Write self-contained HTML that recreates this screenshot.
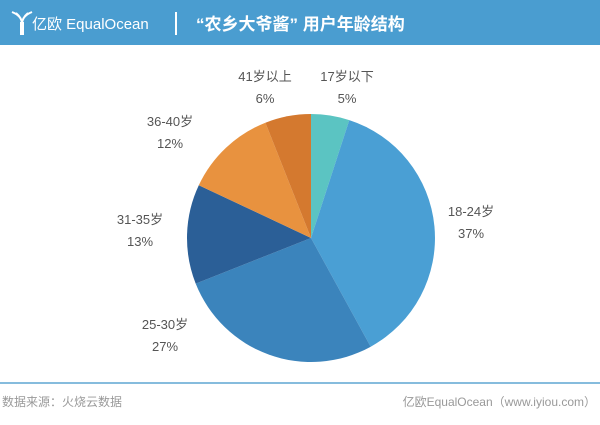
<!DOCTYPE html>
<html><head><meta charset="utf-8"><style>
body{margin:0;width:600px;height:425px;background:#fff;font-family:"Liberation Sans","Noto Sans CJK SC",sans-serif;position:relative;overflow:hidden}
.hd{position:absolute;left:0;top:0;width:600px;height:45px;background:#4a9dd0}
.t{position:absolute;color:#fff}
.lb{position:absolute;font-size:13px;color:#555;text-align:center;line-height:22px}
</style></head><body>
<div class="hd"></div>
<svg style="position:absolute;left:10px;top:10px" width="24" height="26"><path d="M2 2 Q12 6 12 14 M22 2 Q12 6 12 14 M6 3 Q12 8 12 14 M18 3 Q12 8 12 14" stroke="#fff" fill="none" stroke-width="2"/><rect x="10" y="12" width="4" height="13" fill="#fff"/></svg>
<div class="t" style="left:32px;top:13px;font-size:15px">亿欧 EqualOcean</div>
<div style="position:absolute;left:175px;top:12px;width:2px;height:23px;background:#fff"></div>
<div class="t" style="left:196px;top:10px;font-size:17px;font-weight:bold">“农乡大爷酱” 用户年龄结构</div>
<svg style="position:absolute;left:0;top:0" width="600" height="425">
<path d="M311 238 L311 114 A124 124 0 0 1 349.3 120.1Z" fill="#5bc4c2"/>
<path d="M311 238 L349.3 120.1 A124 124 0 0 1 370.7 346.7Z" fill="#4a9fd4"/>
<path d="M311 238 L370.7 346.7 A124 124 0 0 1 195.7 283.6Z" fill="#3b84bc"/>
<path d="M311 238 L195.7 283.6 A124 124 0 0 1 198.8 185.2Z" fill="#2b5f97"/>
<path d="M311 238 L198.8 185.2 A124 124 0 0 1 265.4 122.7Z" fill="#e8923f"/>
<path d="M311 238 L265.4 122.7 A124 124 0 0 1 311 114Z" fill="#d4792f"/>
<line x1="0" y1="383" x2="600" y2="383" stroke="#5fa5d2" stroke-width="1.5"/>
</svg>
<div class="lb" style="left:312px;top:66px;width:70px">17岁以下<br>5%</div>
<div class="lb" style="left:230px;top:66px;width:70px">41岁以上<br>6%</div>
<div class="lb" style="left:436px;top:201px;width:70px">18-24岁<br>37%</div>
<div class="lb" style="left:135px;top:111px;width:70px">36-40岁<br>12%</div>
<div class="lb" style="left:105px;top:209px;width:70px">31-35岁<br>13%</div>
<div class="lb" style="left:130px;top:314px;width:70px">25-30岁<br>27%</div>
<div style="position:absolute;left:2px;top:393px;font-size:12px;color:#999">数据来源：火烧云数据</div>
<div style="position:absolute;right:4px;top:393px;font-size:12px;color:#999">亿欧EqualOcean（www.iyiou.com）</div>
</body></html>
